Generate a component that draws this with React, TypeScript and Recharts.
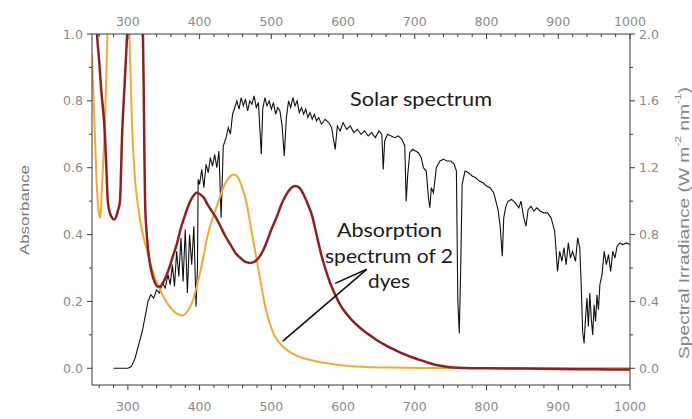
import React from 'react';
import { ComposedChart, Line, XAxis, YAxis, ReferenceLine } from 'recharts';

// wavelength (nm) / irradiance (W m-2 nm-1)
const solarWl = [
  280, 300, 305, 310, 315, 320, 325, 328, 332, 336, 340, 344, 348, 352, 356, 359, 362, 365, 368, 371,
  374, 377, 380, 383, 386, 389, 392, 395, 397, 398, 400, 403, 406, 409, 412, 415, 418, 421, 424, 427,
  430, 433, 437, 440, 443, 446, 449, 452, 455, 458, 461, 464, 467, 470, 473, 476, 479, 482, 486, 488,
  491, 494, 497, 500, 503, 506, 509, 512, 515, 518, 521, 524, 527, 530, 533, 536, 539, 542, 545, 548,
  551, 554, 557, 560, 563, 566, 570, 575, 580, 584, 589, 592, 596, 600, 605, 610, 615, 620, 625, 630,
  635, 640, 645, 650, 654, 656, 658, 662, 667, 672, 677, 682, 686, 688, 690, 693, 697, 701, 705, 709,
  712, 716, 719, 721, 723, 726, 730, 735, 740, 745, 750, 755, 758, 760, 762, 764, 766, 770, 775, 780,
  785, 790, 795, 800, 805, 810, 813, 816, 819, 822, 824, 827, 830, 835, 840, 845, 848, 852, 855, 858,
  862, 866, 870, 875, 880, 885, 890, 895, 899, 902, 905, 908, 911, 914, 917, 920, 924, 927, 930, 932,
  934, 936, 938, 940, 942, 944, 946, 948, 950, 952, 954, 956, 958, 961, 964, 967, 970, 973, 976, 979,
  982, 986, 990, 995, 1000,
];
const solarIrr = [
  0, 0, 0.01, 0.06, 0.14, 0.22, 0.33, 0.4, 0.44, 0.42, 0.47, 0.45, 0.51, 0.48, 0.56, 0.5, 0.62, 0.49, 0.7, 0.55,
  0.78, 0.52, 0.83, 0.45, 0.8, 0.62, 0.85, 0.37, 0.6, 1.13, 1.1, 1.19, 1.08, 1.22, 1.17, 1.26, 1.21, 1.28, 1.2, 1.3,
  0.9, 1.33, 1.38, 1.44, 1.4, 1.52, 1.56, 1.6, 1.55, 1.62, 1.57, 1.61, 1.54, 1.6, 1.58, 1.63, 1.56, 1.59, 1.28, 1.55,
  1.62, 1.57, 1.6, 1.55, 1.59, 1.52, 1.56, 1.54, 1.45, 1.27, 1.5, 1.6, 1.56, 1.62, 1.57, 1.6, 1.53, 1.56, 1.52, 1.55,
  1.5, 1.53, 1.49, 1.52, 1.48, 1.5, 1.46, 1.49, 1.47, 1.44, 1.31, 1.45, 1.42, 1.47, 1.43, 1.45, 1.41, 1.43, 1.4, 1.42,
  1.39, 1.41, 1.38, 1.42, 1.4, 1.19, 1.36, 1.4, 1.39, 1.38, 1.39, 1.37, 1.33, 1.0, 1.15, 1.29, 1.31, 1.3, 1.29, 1.26,
  1.2, 1.18, 1.02, 0.96, 1.08, 1.05, 1.2, 1.24, 1.25, 1.24, 1.24, 1.22, 1.18, 0.4, 0.21, 0.6, 1.1, 1.18, 1.17, 1.15,
  1.14, 1.12, 1.11, 1.09, 1.08, 1.05, 1.0, 0.95, 0.85, 0.67, 0.9, 0.97, 1.0, 1.01, 0.99, 0.96, 1.0, 0.9, 0.85, 0.95,
  0.97, 0.94, 0.96, 0.94, 0.93, 0.93, 0.9, 0.82, 0.58, 0.7, 0.64, 0.72, 0.62, 0.75, 0.66, 0.7, 0.64, 0.78, 0.72, 0.5,
  0.22, 0.15, 0.3, 0.42, 0.25, 0.45, 0.3, 0.2, 0.38, 0.28, 0.44, 0.35, 0.5, 0.56, 0.7, 0.62, 0.68, 0.58, 0.7, 0.66,
  0.73, 0.75, 0.74, 0.75, 0.74,
];

// dye 1 (orange) absorbance
const orangeWl = [
  250, 252, 254, 256, 258, 260, 261, 262, 264, 266, 268, 270, 272, 276, 290, 298, 302, 304, 306, 308,
  310, 314, 317, 322, 327, 332, 338, 345, 352, 359, 366, 372, 376, 381, 386, 391, 396, 400, 405, 410,
  414, 420, 428, 435, 441, 447, 452, 456, 461, 466, 470, 475, 480, 485, 490, 495, 500, 505, 510, 517,
  525, 535, 545, 560, 580, 600, 630, 670, 720, 800, 900, 1000,
];
const orangeAbs = [
  0.94, 0.82, 0.7, 0.58, 0.5, 0.46, 0.45, 0.46, 0.55, 0.63, 0.74, 0.88, 1.04, 1.3, 1.4, 1.2, 1.0, 0.86, 0.72, 0.63,
  0.565, 0.49, 0.445, 0.39, 0.35, 0.31, 0.27, 0.235, 0.205, 0.183, 0.167, 0.16, 0.158, 0.165, 0.18, 0.205, 0.245, 0.28, 0.33, 0.385,
  0.42, 0.46, 0.51, 0.55, 0.57, 0.58, 0.575, 0.56, 0.53, 0.49, 0.44, 0.38, 0.32, 0.26, 0.2, 0.155, 0.12, 0.095, 0.08, 0.063,
  0.05, 0.038, 0.03, 0.022, 0.014, 0.008, 0.004, 0.002, 0.001, 0.001, 0.001, 0.001,
];

// dye 2 (dark red) absorbance
const redWl = [
  250, 255, 257, 260, 263, 266, 268, 270, 272, 275, 278, 281, 284, 286, 289, 292, 295, 299, 303, 312,
  318, 321, 322, 323, 324, 326, 328, 331, 334, 337, 341, 345, 350, 356, 362, 368, 374, 380, 386, 391,
  396, 401, 406, 411, 417, 423, 429, 436, 443, 450, 457, 464, 470, 476, 482, 488, 494, 500, 507, 514,
  521, 527, 533, 539, 545, 551, 557, 563, 569, 575, 582, 589, 596, 604, 612, 620, 630, 640, 650, 660,
  670, 680, 690, 700, 710, 720, 730, 740, 750, 770, 800, 850, 900, 950, 1000,
];
const redAbs = [
  1.4, 1.1, 1.0, 0.92, 0.83, 0.76, 0.7, 0.6, 0.5, 0.465, 0.45, 0.445, 0.455, 0.47, 0.5, 0.7, 0.83, 1.0, 1.2, 1.35,
  1.2, 1.0, 0.85, 0.65, 0.5, 0.41, 0.36, 0.31, 0.28, 0.26, 0.245, 0.245, 0.26, 0.29, 0.33, 0.37, 0.42, 0.46, 0.495, 0.515,
  0.525, 0.52, 0.51, 0.49, 0.47, 0.45, 0.425, 0.395, 0.37, 0.345, 0.33, 0.318, 0.315, 0.318, 0.33, 0.35, 0.38, 0.415, 0.45, 0.49,
  0.52, 0.538, 0.545, 0.54, 0.52, 0.49, 0.455, 0.4, 0.345, 0.3, 0.255, 0.22, 0.19, 0.165, 0.145, 0.128, 0.11, 0.095, 0.08, 0.068,
  0.057, 0.047, 0.038, 0.03, 0.023, 0.016, 0.01, 0.006, 0.003, 0.001, 0, -0.001, -0.002, -0.003, -0.004,
];

const xTicks = [
  260, 280, 300, 320, 340, 360, 380, 400, 420, 440, 460, 480, 500, 520, 540, 560, 580, 600, 620, 640,
  660, 680, 700, 720, 740, 760, 780, 800, 820, 840, 860, 880, 900, 920, 940, 960, 980, 1000,
];
const absTicks = [0, 0.1, 0.2, 0.3, 0.4, 0.5, 0.6, 0.7, 0.8, 0.9, 1.0];
const irrTicks = [0, 0.2, 0.4, 0.6, 0.8, 1.0, 1.2, 1.4, 1.6, 1.8, 2.0];

const solarData = solarWl.map((x, i) => ({ x, v: solarIrr[i] }));
const orangeData = orangeWl.map((x, i) => ({ x, v: orangeAbs[i] }));
const redData = redWl.map((x, i) => ({ x, v: redAbs[i] }));

const AXIS = '#3a3a3a';
const TICK = '#8a8a8a';
const TICK_FONT = { fontFamily: '"DejaVu Sans", sans-serif', fontSize: 12.5 };
const ANNO_FONT = 'Lato, "Open Sans", sans-serif';

const isMajorX = (v: number) => v % 100 === 0;

function BottomTick({ x, y, payload }: any) {
  const major = isMajorX(payload.value);
  return (
    <g>
      <line x1={x} x2={x} y1={y} y2={y + (major ? 5 : 3)} stroke={AXIS} />
      {major && (
        <text x={x} y={y + 21} textAnchor="middle" dominantBaseline="central" fill={TICK} style={TICK_FONT}>
          {payload.value}
        </text>
      )}
    </g>
  );
}

function TopTick({ x, y, payload }: any) {
  const major = isMajorX(payload.value);
  return (
    <g>
      <line x1={x} x2={x} y1={y} y2={y + (major ? 5 : 3)} stroke={AXIS} />
      {major && (
        <text x={x} y={y - 13} textAnchor="middle" dominantBaseline="central" fill={TICK} style={TICK_FONT}>
          {payload.value}
        </text>
      )}
    </g>
  );
}

function LeftTick({ x, y, payload }: any) {
  const major = Math.round(payload.value * 10) % 2 === 0;
  return (
    <g>
      <line x1={x} x2={x - (major ? 5 : 3)} y1={y} y2={y} stroke={AXIS} />
      {major && (
        <text x={x - 9} y={y} textAnchor="end" dominantBaseline="central" fill={TICK} style={TICK_FONT}>
          {payload.value.toFixed(1)}
        </text>
      )}
    </g>
  );
}

function RightTick({ x, y, payload }: any) {
  const major = Math.round(payload.value * 10) % 4 === 0;
  return (
    <g>
      <line x1={x} x2={x + (major ? 5 : 3)} y1={y} y2={y} stroke={AXIS} />
      {major && (
        <text x={x + 9} y={y} textAnchor="start" dominantBaseline="central" fill={TICK} style={TICK_FONT}>
          {payload.value.toFixed(1)}
        </text>
      )}
    </g>
  );
}

export default function App() {
  return (
    <div style={{ position: 'absolute', left: 0, top: 0, width: 692, height: 419, background: '#fff' }}>
      <ComposedChart width={692} height={419} margin={{ top: 0, right: 0, bottom: 0, left: 0 }}>
        <XAxis
          xAxisId="b" orientation="bottom" type="number" dataKey="x" domain={[250, 1000]} ticks={xTicks}
          height={34} tickSize={0} tickMargin={0} tickLine={false} interval={0} tick={BottomTick}
          axisLine={{ stroke: AXIS }} allowDataOverflow
        />
        <XAxis
          xAxisId="t" orientation="top" type="number" dataKey="x" domain={[250, 1000]} ticks={xTicks}
          height={34} tickSize={0} tickMargin={0} tickLine={false} interval={0} tick={TopTick}
          axisLine={{ stroke: AXIS }} allowDataOverflow
        />
        <YAxis
          yAxisId="l" orientation="left" type="number" domain={[-0.05, 1]} ticks={absTicks}
          width={92} tickSize={0} tickMargin={0} tickLine={false} interval={0} tick={LeftTick}
          axisLine={{ stroke: AXIS }} allowDataOverflow
        />
        <YAxis
          yAxisId="r" orientation="right" type="number" domain={[-0.1, 2]} ticks={irrTicks}
          width={62} tickSize={0} tickMargin={0} tickLine={false} interval={0} tick={RightTick}
          axisLine={{ stroke: AXIS }} allowDataOverflow
        />
        <Line
          data={solarData} dataKey="v" xAxisId="b" yAxisId="r" type="linear"
          stroke="#111" strokeWidth={1.1} dot={false} activeDot={false} isAnimationActive={false}
        />
        <Line
          data={orangeData} dataKey="v" xAxisId="b" yAxisId="l" type="monotone"
          stroke="#f2a93b" strokeWidth={2} dot={false} activeDot={false} isAnimationActive={false}
        />
        <Line
          data={redData} dataKey="v" xAxisId="b" yAxisId="l" type="monotone"
          stroke="#8a2222" strokeWidth={2.5} dot={false} activeDot={false} isAnimationActive={false}
        />
        <ReferenceLine
          xAxisId="b" yAxisId="l" segment={[{ x: 516, y: 0.081 }, { x: 633, y: 0.296 }]}
          stroke="#111" strokeWidth={1.6}
        />
        <ReferenceLine
          xAxisId="b" yAxisId="l" segment={[{ x: 589, y: 0.254 }, { x: 633, y: 0.296 }]}
          stroke="#111" strokeWidth={1.6}
        />
      </ComposedChart>
      <svg
        width={692} height={419}
        style={{ position: 'absolute', left: 0, top: 0, pointerEvents: 'none' }}
      >
        <text
          transform="translate(24,210) rotate(-90)" textAnchor="middle" dominantBaseline="central"
          fill="#7a7a7a" fontFamily='"Liberation Sans", Arial, sans-serif' fontSize={13}
          textLength={90} lengthAdjust="spacingAndGlyphs"
        >
          Absorbance
        </text>
        <text
          transform="translate(684,223) rotate(-90)" textAnchor="middle" dominantBaseline="central"
          fill="#858585" fontFamily='"Liberation Sans", Arial, sans-serif' fontSize={14.5}
          textLength={272} lengthAdjust="spacingAndGlyphs"
        >
          Spectral Irradiance (W m<tspan dy={-6} fontSize={9}>-2</tspan>
          <tspan dy={6}> nm</tspan>
          <tspan dy={-6} fontSize={9}>-1</tspan>
          <tspan dy={6}>)</tspan>
        </text>
        <g fill="#1a1a1a" fontFamily={ANNO_FONT} fontSize={20}>
          <text x={350} y={106} textLength={142} lengthAdjust="spacingAndGlyphs">Solar spectrum</text>
          <text x={337} y={237} textLength={105} lengthAdjust="spacingAndGlyphs">Absorption</text>
          <text x={325} y={263} textLength={128} lengthAdjust="spacingAndGlyphs">spectrum of 2</text>
          <text x={368} y={288} textLength={42} lengthAdjust="spacingAndGlyphs">dyes</text>
        </g>
      </svg>
    </div>
  );
}
